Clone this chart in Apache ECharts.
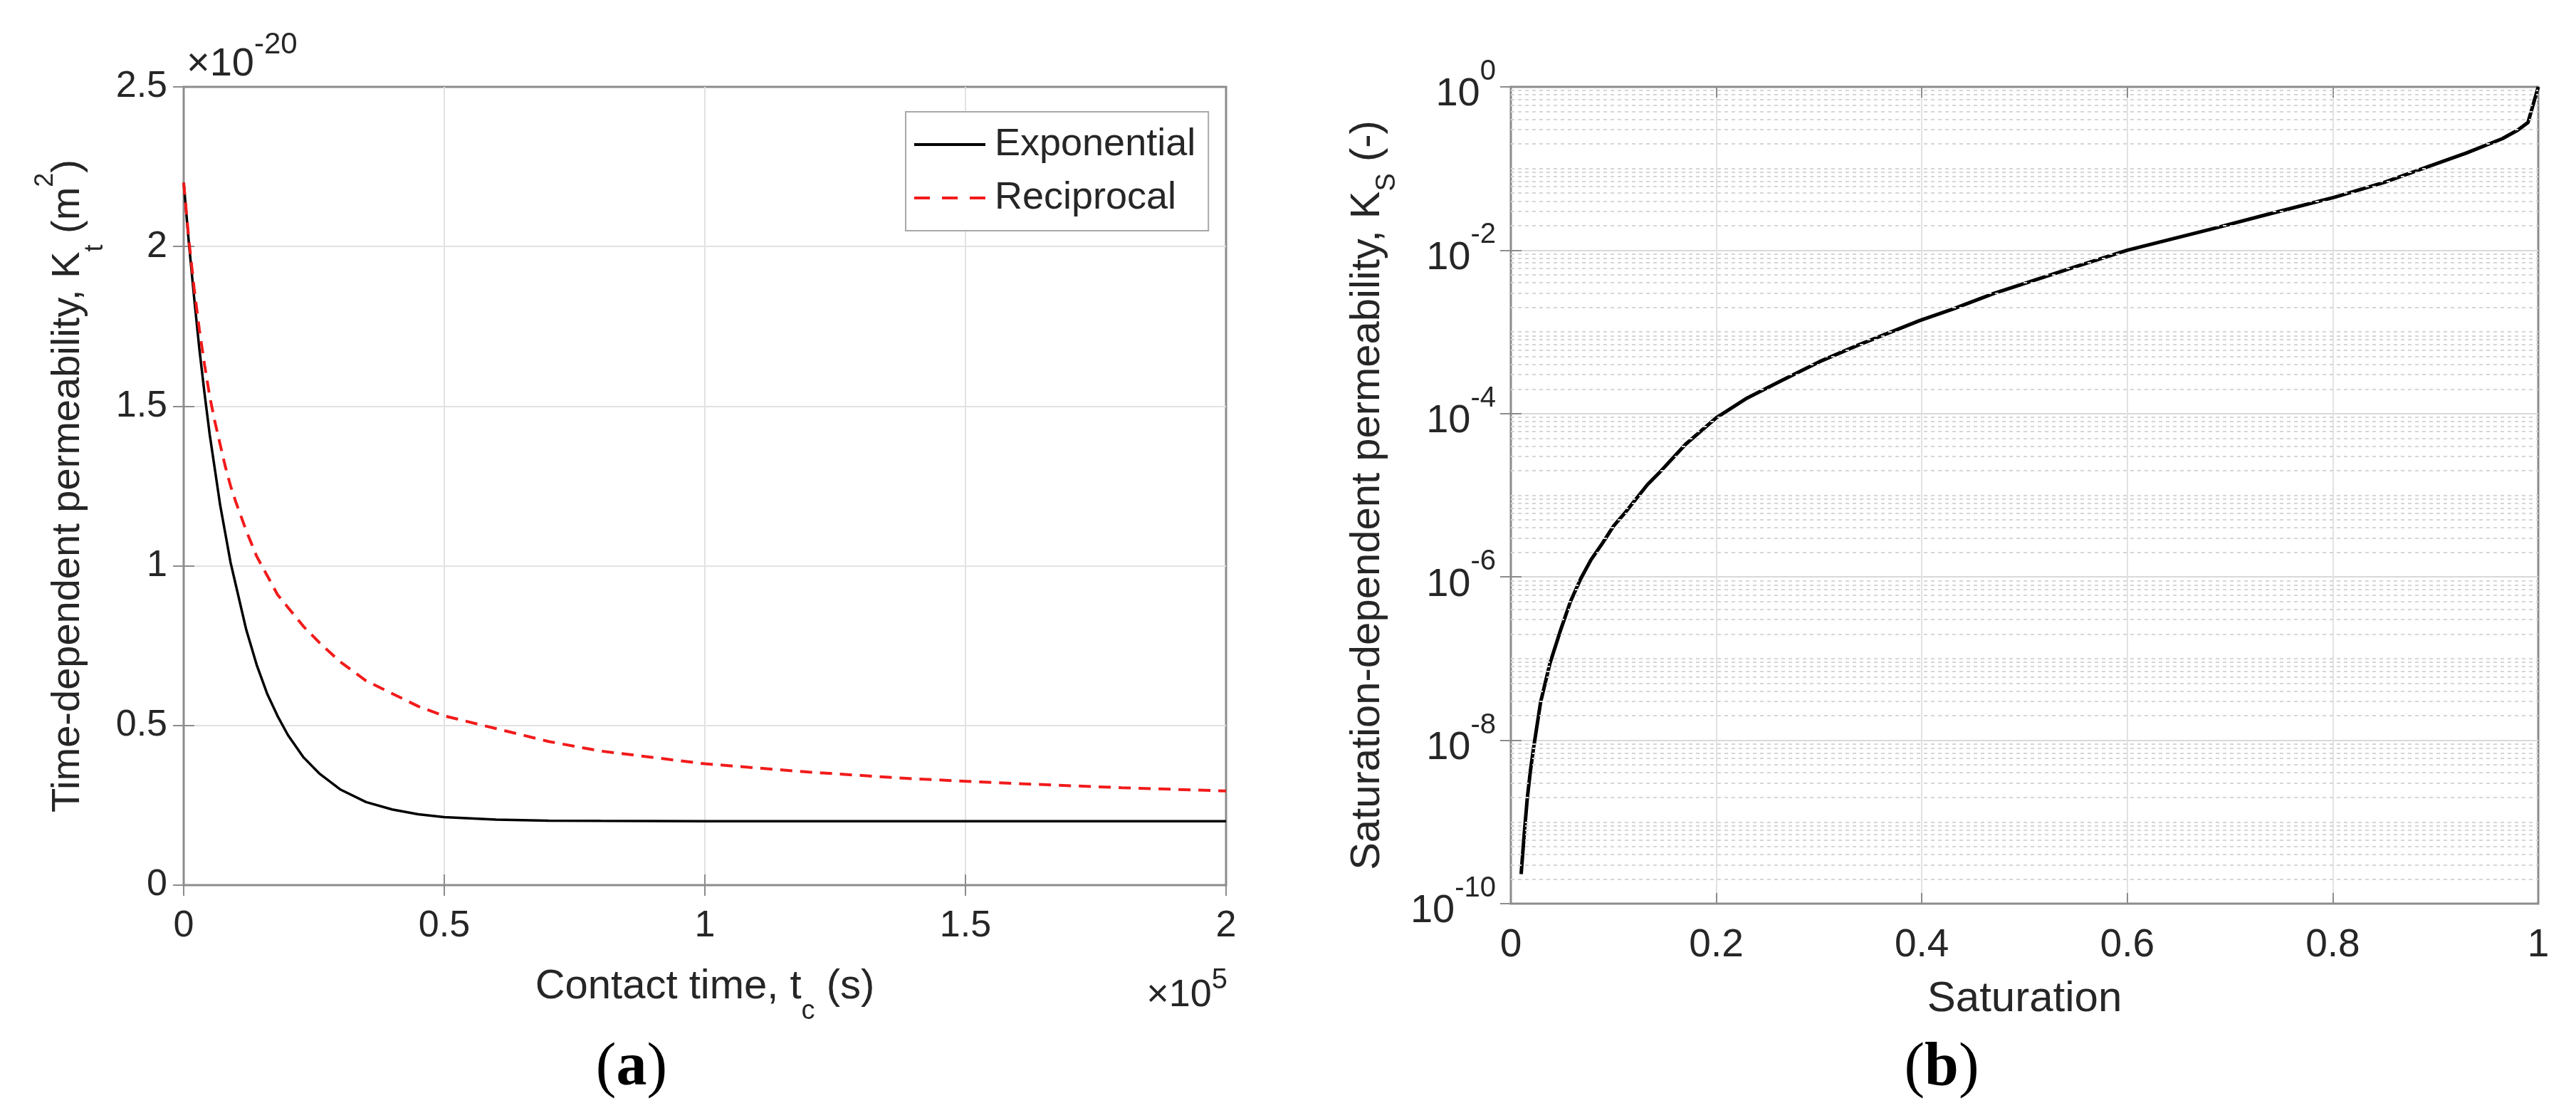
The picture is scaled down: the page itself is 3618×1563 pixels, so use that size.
<!DOCTYPE html>
<html>
<head>
<meta charset="utf-8">
<script src="https://cdn.jsdelivr.net/npm/echarts@6/dist/echarts.min.js"></script>
<style>
html,body{margin:0;padding:0;background:#fff;}
#c{width:3618px;height:1563px;}
</style>
</head>
<body>
<div id="c"></div>
<script>
// ---- Panel (a): time-dependent permeability (values in units of 1e-20 m^2) ----
const timeS = [0, 1000, 2000, 3000, 4000, 5000, 6000, 7000, 8000, 9000, 10000, 12000, 14000, 16000, 18000, 20000, 23000, 26000, 30000, 35000, 40000, 45000, 50000, 60000, 70000, 80000, 100000, 120000, 140000, 160000, 180000, 200000];
const expK  = [2.20, 2.01, 1.84, 1.68, 1.54, 1.41, 1.30, 1.19, 1.10, 1.01, 0.94, 0.80, 0.69, 0.60, 0.53, 0.47, 0.40, 0.35, 0.30, 0.26, 0.237, 0.222, 0.213, 0.205, 0.202, 0.201, 0.200, 0.200, 0.200, 0.200, 0.200, 0.200];
const recK  = [2.20, 2.02, 1.87, 1.74, 1.63, 1.53, 1.45, 1.38, 1.31, 1.25, 1.20, 1.11, 1.03, 0.97, 0.91, 0.87, 0.81, 0.76, 0.70, 0.64, 0.60, 0.56, 0.53, 0.49, 0.45, 0.42, 0.38, 0.354, 0.333, 0.318, 0.305, 0.295];
const seriesNamesA = ['Exponential', 'Reciprocal'];

// ---- Panel (b): saturation-dependent permeability ----
const satS = [0.010, 0.013, 0.016, 0.019, 0.022, 0.029, 0.038, 0.049, 0.058, 0.068, 0.078, 0.089, 0.100, 0.112, 0.133, 0.144, 0.170, 0.200, 0.230, 0.261, 0.300, 0.338, 0.398, 0.430, 0.470, 0.494, 0.550, 0.600, 0.682, 0.740, 0.802, 0.850, 0.894, 0.930, 0.965, 0.980, 0.990, 1.000];
const satK = [2.3e-10, 7.1e-10, 1.95e-9, 4.2e-9, 7.9e-9, 2.95e-8, 8.7e-8, 2.35e-7, 5.0e-7, 9.5e-7, 1.62e-6, 2.57e-6, 4.2e-6, 6.3e-6, 1.35e-5, 1.86e-5, 4.2e-5, 8.9e-5, 1.55e-4, 2.45e-4, 4.3e-4, 6.9e-4, 1.38e-3, 1.9e-3, 2.95e-3, 3.7e-3, 6.3e-3, 1.0e-2, 1.82e-2, 2.82e-2, 4.47e-2, 6.76e-2, 0.107, 0.155, 0.232, 0.295, 0.367, 1.0];

// log-axis minor grid positions
const minorMult = [2, 3, 4, 5, 6, 7, 8, 9];
const decadeExp = [-10, -9, -8, -7, -6, -5, -4, -3, -2, -1];
const oddDecadeExp = [-9, -7, -5, -3, -1];

const FONT = '"Liberation Sans", Arial, Helvetica, sans-serif';
const SERIF = '"Liberation Serif", "Times New Roman", serif';
const AX = '#8c8c8c';
const TXT = '#262626';
const GRIDC = '#e2e2e2';
const MINORC = '#d6d6d6';
const RED = '#f21a1a';

const pairs = (xs, ys) => xs.map((x, i) => [x, ys[i]]);

const minorVals = [];
decadeExp.forEach(e => minorMult.forEach(m => minorVals.push(m * Math.pow(10, e))));
oddDecadeExp.forEach(e => minorVals.push(Math.pow(10, e)));

const tickStyle = {inside: true, length: 15, lineStyle: {color: AX, width: 2}};
const splitStyle = {show: true, showMinLine: false, showMaxLine: false, lineStyle: {color: GRIDC, width: 2}};

const chart = echarts.init(document.getElementById('c'));
const option = {
  animation: false,
  backgroundColor: '#ffffff',
  textStyle: {fontFamily: FONT},
  grid: [
    {left: 258, top: 122, width: 1464, height: 1121, show: true, borderColor: AX, borderWidth: 3, backgroundColor: 'rgba(0,0,0,0)'},
    {left: 2122, top: 122, width: 1443, height: 1147, show: true, borderColor: AX, borderWidth: 3, backgroundColor: 'rgba(0,0,0,0)'}
  ],
  xAxis: [
    {
      gridIndex: 0, type: 'value', min: 0, max: 200000, interval: 50000,
      axisLine: {show: false}, axisTick: tickStyle, splitLine: splitStyle,
      axisLabel: {fontSize: 52, lineHeight: 52, color: TXT, margin: 32, formatter: v => String(v / 1e5)},
      name: '{a|Contact time, t}{sub|c}{a| (s)}', nameLocation: 'middle', nameGap: 79,
      nameTextStyle: {rich: {
        a: {fontSize: 58, lineHeight: 58, color: TXT, fontFamily: FONT},
        sub: {fontSize: 38, lineHeight: 38, color: TXT, fontFamily: FONT, padding: [70, 0, 0, 0]}
      }}
    },
    {
      gridIndex: 0, type: 'value', position: 'top', min: 0, max: 200000, interval: 50000,
      axisLine: {show: false}, axisTick: tickStyle, axisLabel: {show: false}, splitLine: {show: false}
    },
    {
      gridIndex: 1, type: 'value', min: 0, max: 1, interval: 0.2,
      axisLine: {show: false}, axisTick: tickStyle, splitLine: splitStyle,
      axisLabel: {fontSize: 55, lineHeight: 55, color: TXT, margin: 31, formatter: v => String(Math.round(v * 10) / 10)},
      name: 'Saturation', nameLocation: 'middle', nameGap: 104,
      nameTextStyle: {fontSize: 60, lineHeight: 60, color: TXT, fontFamily: FONT}
    },
    {
      gridIndex: 1, type: 'value', position: 'top', min: 0, max: 1, interval: 0.2,
      axisLine: {show: false}, axisTick: tickStyle, axisLabel: {show: false}, splitLine: {show: false}
    }
  ],
  yAxis: [
    {
      gridIndex: 0, type: 'value', min: 0, max: 2.5, interval: 0.5,
      axisLine: {show: false}, axisTick: tickStyle, splitLine: splitStyle,
      axisLabel: {fontSize: 52, lineHeight: 52, color: TXT, margin: 23},
      name: '{a|Time-dependent permeability, K}{sub|t}{a| (m}{sup|2}{a|)}',
      nameLocation: 'middle', nameRotate: 90, nameGap: 134,
      nameTextStyle: {rich: {
        a: {fontSize: 56, lineHeight: 56, color: TXT, fontFamily: FONT},
        sub: {fontSize: 36, lineHeight: 36, color: TXT, fontFamily: FONT, padding: [76, 0, 0, 0]},
        sup: {fontSize: 36, lineHeight: 36, color: TXT, fontFamily: FONT, padding: [0, 0, 64, 0]}
      }}
    },
    {
      gridIndex: 0, type: 'value', position: 'right', min: 0, max: 2.5, interval: 0.5,
      axisLine: {show: false}, axisTick: tickStyle, axisLabel: {show: false}, splitLine: {show: false}
    },
    {
      gridIndex: 1, type: 'log', logBase: 10, min: 1e-10, max: 1, interval: 2,
      axisLine: {show: false}, axisTick: tickStyle,
      splitLine: {show: true, showMinLine: false, showMaxLine: false, lineStyle: {color: '#d9d9d9', width: 2}},
      axisLabel: {
        color: TXT, margin: 21,
        formatter: v => '{b|10}{s|' + Math.round(Math.log10(v)) + '}',
        rich: {
          b: {fontSize: 56, lineHeight: 56, color: TXT, fontFamily: FONT, padding: [22, 0, 0, 0]},
          s: {fontSize: 40, lineHeight: 40, color: TXT, fontFamily: FONT, padding: [0, 0, 42, 0]}
        }
      },
      name: '{a|Saturation-dependent permeability, K}{sub|S}{a| (-)}',
      nameLocation: 'middle', nameRotate: 90, nameGap: 172,
      nameTextStyle: {rich: {
        a: {fontSize: 58, lineHeight: 58, color: TXT, fontFamily: FONT},
        sub: {fontSize: 38, lineHeight: 38, color: TXT, fontFamily: FONT, padding: [56, 0, 0, 0]}
      }}
    },
    {
      gridIndex: 1, type: 'log', logBase: 10, position: 'right', min: 1e-10, max: 1, interval: 2,
      axisLine: {show: false}, axisTick: tickStyle, axisLabel: {show: false}, splitLine: {show: false}
    }
  ],
  legend: {
    data: [
      {name: seriesNamesA[0], lineStyle: {width: 4, color: '#000000'}},
      {name: seriesNamesA[1], lineStyle: {width: 4, color: RED, type: [22, 17]}}
    ],
    orient: 'vertical', left: 1272, top: 157,
    backgroundColor: '#ffffff', borderColor: '#a8a8a8', borderWidth: 2,
    padding: [19, 18, 19, 10], itemGap: 21, itemWidth: 100, itemHeight: 1,
    itemStyle: {opacity: 0, borderWidth: 0},
    textStyle: {fontSize: 54, lineHeight: 54, color: TXT, fontFamily: FONT, padding: [0, 0, 0, 8]}
  },
  series: [
    {
      name: seriesNamesA[0], type: 'line', xAxisIndex: 0, yAxisIndex: 0,
      data: pairs(timeS, expK), symbol: 'none', smooth: false,
      lineStyle: {color: '#000000', width: 3.5}, itemStyle: {color: '#000000'}, z: 3
    },
    {
      name: seriesNamesA[1], type: 'line', xAxisIndex: 0, yAxisIndex: 0,
      data: pairs(timeS, recK), symbol: 'none', smooth: false,
      lineStyle: {color: RED, width: 4, type: [17, 11]}, itemStyle: {color: RED}, z: 4
    },
    {
      name: 'minorGrid', type: 'line', xAxisIndex: 2, yAxisIndex: 2, z: 1,
      data: [[0, 1]], symbol: 'none', lineStyle: {opacity: 0}, silent: true,
      markLine: {
        silent: true, symbol: ['none', 'none'], label: {show: false}, precision: 20,
        lineStyle: {color: MINORC, width: 2, type: [5, 5]},
        data: minorVals.map(v => ({yAxis: v}))
      }
    },
    {
      name: 'Ks', type: 'line', xAxisIndex: 2, yAxisIndex: 2, z: 3,
      data: pairs(satS, satK), symbol: 'none', smooth: false,
      lineStyle: {color: '#000000', width: 5, join: 'round'}, itemStyle: {color: '#000000'}
    }
  ],
  graphic: [
    {
      type: 'text', z: 10,
      style: {
        text: '{a|×10}{s|-20}', x: 262, y: 91, verticalAlign: 'middle', align: 'left',
        rich: {
          a: {fontSize: 56, lineHeight: 56, fill: TXT, fontFamily: FONT},
          s: {fontSize: 42, lineHeight: 42, fill: TXT, fontFamily: FONT, padding: [0, 0, 56, 0]}
        }
      }
    },
    {
      type: 'text', z: 10,
      style: {
        text: '{a|×10}{s|5}', x: 1724, y: 1398, verticalAlign: 'middle', align: 'right',
        rich: {
          a: {fontSize: 54, lineHeight: 54, fill: TXT, fontFamily: FONT},
          s: {fontSize: 40, lineHeight: 40, fill: TXT, fontFamily: FONT, padding: [0, 0, 42, 0]}
        }
      }
    },
    {
      type: 'text', z: 10,
      style: {
        text: '{p|(}{b|a}{p|)}', x: 887, y: 1501, verticalAlign: 'middle', align: 'center',
        rich: {
          p: {fontSize: 86, lineHeight: 86, fill: '#000', fontFamily: SERIF},
          b: {fontSize: 86, lineHeight: 86, fill: '#000', fontFamily: SERIF, fontWeight: 'bold'}
        }
      }
    },
    {
      type: 'text', z: 10,
      style: {
        text: '{p|(}{b|b}{p|)}', x: 2727, y: 1501, verticalAlign: 'middle', align: 'center',
        rich: {
          p: {fontSize: 86, lineHeight: 86, fill: '#000', fontFamily: SERIF},
          b: {fontSize: 86, lineHeight: 86, fill: '#000', fontFamily: SERIF, fontWeight: 'bold'}
        }
      }
    }
  ]
};
chart.setOption(option);
</script>
</body>
</html>
